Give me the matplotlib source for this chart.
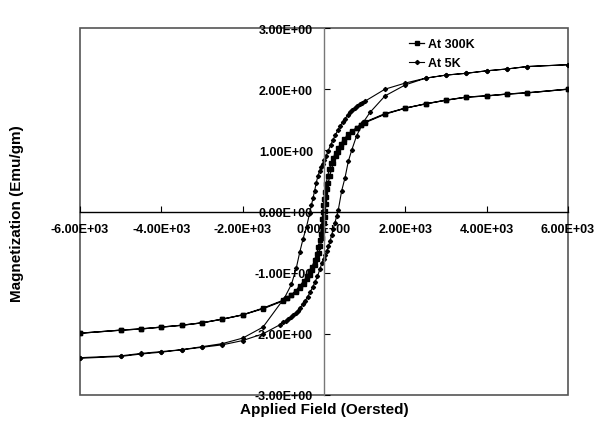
import matplotlib
matplotlib.use("Agg")
import matplotlib.pyplot as plt
from matplotlib.patches import Rectangle

plt.rcParams['font.family'] = ['Liberation Sans', 'DejaVu Sans']
plt.rcParams['font.weight'] = 'bold'

# ---- data ----
k300_desc_x = [6000, 5000, 4500, 4000, 3500, 3000, 2500, 2000, 1500, 1000, 900, 800, 700, 600,
               500, 420, 350, 290, 230, 180, 130, 90, 50, 20, 0, -15, -30, -45, -60, -80,
               -105, -140, -180, -230, -290, -350, -420, -500, -600, -700, -800, -900, -1000,
               -1500, -2000, -2500, -3000, -3500, -4000, -4500, -5000, -6000]
k300_desc_y = [2.00, 1.94, 1.92, 1.89, 1.87, 1.82, 1.76, 1.69, 1.60, 1.46, 1.42, 1.37, 1.32, 1.26,
               1.19, 1.11, 1.04, 0.96, 0.88, 0.79, 0.69, 0.58, 0.45, 0.32, 0.20, 0.10, 0.00, -0.12, -0.24, -0.36,
               -0.47, -0.58, -0.69, -0.79, -0.90, -0.98, -1.06, -1.14, -1.22, -1.30, -1.36, -1.41, -1.45,
               -1.58, -1.69, -1.76, -1.82, -1.86, -1.89, -1.92, -1.94, -1.99]
k300_asc_x = [-6000, -5000, -4500, -4000, -3500, -3000, -2500, -2000, -1500, -1000, -900, -800, -700, -600,
              -500, -420, -350, -290, -230, -180, -130, -90, -50, -20, 0, 15, 30, 45, 60, 80,
              105, 140, 180, 230, 290, 350, 420, 500, 600, 700, 800, 900, 1000,
              1500, 2000, 2500, 3000, 3500, 4000, 4500, 5000, 6000]
k300_asc_y = [-1.99, -1.94, -1.92, -1.89, -1.86, -1.82, -1.76, -1.69, -1.59, -1.46, -1.42, -1.37, -1.31, -1.25,
              -1.18, -1.10, -1.03, -0.95, -0.87, -0.78, -0.68, -0.57, -0.44, -0.31, -0.19, -0.09, 0.01, 0.12, 0.24, 0.36,
              0.47, 0.58, 0.69, 0.79, 0.90, 0.98, 1.06, 1.14, 1.22, 1.30, 1.36, 1.41, 1.45,
              1.59, 1.69, 1.76, 1.82, 1.87, 1.89, 1.92, 1.94, 2.00]

k5_desc_x = [6000, 5000, 4500, 4000, 3500, 3000, 2500, 2000, 1500,
             1000, 940, 880, 820, 760, 700, 640, 580, 520, 460, 400, 340, 280, 220, 160, 100, 50,
             10, -30, -70, -110, -150, -190, -230, -270, -310, -350,
             -430, -516, -598, -680, -800, -970, -1500, -2000, -2500, -3000, -3500, -4000,
             -4500, -5000, -6000]
k5_desc_y = [2.40, 2.37, 2.33, 2.30, 2.26, 2.23, 2.18, 2.10, 2.00,
             1.80, 1.78, 1.76, 1.73, 1.70, 1.66, 1.62, 1.57, 1.52, 1.46, 1.40, 1.33, 1.25, 1.17, 1.08, 0.99, 0.90,
             0.84, 0.78, 0.72, 0.66, 0.58, 0.47, 0.34, 0.22, 0.10, -0.02,
             -0.25, -0.45, -0.67, -0.92, -1.19, -1.41, -1.89, -2.07, -2.16, -2.21, -2.26, -2.29,
             -2.32, -2.36, -2.39]
k5_asc_x = [-6000, -5000, -4500, -4000, -3500, -3000, -2500, -2000, -1500,
            -1080, -1000, -940, -880, -820, -760, -700, -640, -580, -520, -460, -400, -340, -280,
            -220, -160, -100, -50, -10, 30, 70, 110, 150, 190, 230, 270, 310, 350,
            435, 516, 598, 680, 803, 967, 1131, 1500, 2000, 2500, 3000, 3500, 4000,
            4500, 5000, 6000]
k5_asc_y = [-2.40, -2.37, -2.33, -2.30, -2.26, -2.22, -2.18, -2.11, -2.00,
            -1.85, -1.81, -1.79, -1.76, -1.73, -1.70, -1.66, -1.62, -1.57, -1.52, -1.46, -1.39, -1.32, -1.24,
            -1.15, -1.06, -0.94, -0.84, -0.77, -0.71, -0.64, -0.57, -0.48, -0.38, -0.28, -0.18, -0.08, 0.02,
            0.34, 0.55, 0.82, 1.00, 1.24, 1.46, 1.62, 1.89, 2.07, 2.18, 2.23, 2.26, 2.30,
            2.33, 2.37, 2.40]

x_ticks = [-6000, -4000, -2000, 0, 2000, 4000, 6000]
x_tick_labels = ['-6.00E+03', '-4.00E+03', '-2.00E+03', '0.00E+00', '2.00E+03', '4.00E+03', '6.00E+03']
y_ticks = [-3, -2, -1, 0, 1, 2, 3]
y_tick_labels = ['-3.00E+00', '-2.00E+00', '-1.00E+00', '0.00E+00', '1.00E+00', '2.00E+00', '3.00E+00']

# ---- figure ----
W, H = 600, 435
fig = plt.figure(figsize=(W / 100, H / 100), dpi=100)
ax = fig.add_axes([80 / W, (H - 396) / H, 488 / W, 367 / H])

ax.plot(k300_desc_x + k300_asc_x, k300_desc_y + k300_asc_y, color='black', lw=0.9,
        marker='s', ms=3.3, mfc='black', mec='black', label='At 300K')
ax.plot(k5_desc_x + k5_asc_x, k5_desc_y + k5_asc_y, color='black', lw=0.8,
        marker='D', ms=2.1, mfc='black', mec='black', label='At 5K')

ax.set_xlim(-6000, 6000)
ax.set_ylim(-3, 3)

for s in ['top', 'right']:
    ax.spines[s].set_visible(False)
ax.spines['left'].set_position(('data', 0))
ax.spines['bottom'].set_position(('data', 0))
ax.spines['left'].set_color('#777777')
ax.spines['bottom'].set_color('black')
ax.spines['left'].set_linewidth(1.0)
ax.spines['bottom'].set_linewidth(1.0)
ax.add_patch(Rectangle((0, 0), 1, 1, transform=ax.transAxes, fill=False,
                       edgecolor='#555555', lw=1.2, clip_on=False, zorder=0))

ax.set_xticks(x_ticks)
ax.set_xticklabels(x_tick_labels)
ax.set_yticks(y_ticks)
ax.set_yticklabels(y_tick_labels)
ax.tick_params(axis='x', direction='in', length=4, pad=8, labelsize=9)
ax.tick_params(axis='y', direction='in', length=4, pad=8, labelsize=9)
for lab in ax.get_xticklabels() + ax.get_yticklabels():
    lab.set_fontweight('bold')

fig.text(17 / W, 1 - 214 / H, 'Magnetization (Emu/gm)', rotation=90, ha='center', va='center',
         fontsize=11, fontweight='bold')
fig.text(324 / W, 1 - 410 / H, 'Applied Field (Oersted)', ha='center', va='center',
         fontsize=11, fontweight='bold')

leg = ax.legend(loc='upper left', bbox_to_anchor=(404 / W, 1 - 34 / H),
                bbox_transform=fig.transFigure, frameon=False, fontsize=9,
                handlelength=1.2, handletextpad=0.3, borderaxespad=0, labelspacing=0.55)
for t in leg.get_texts():
    t.set_fontweight('bold')

fig.savefig('out.png', dpi=100)
